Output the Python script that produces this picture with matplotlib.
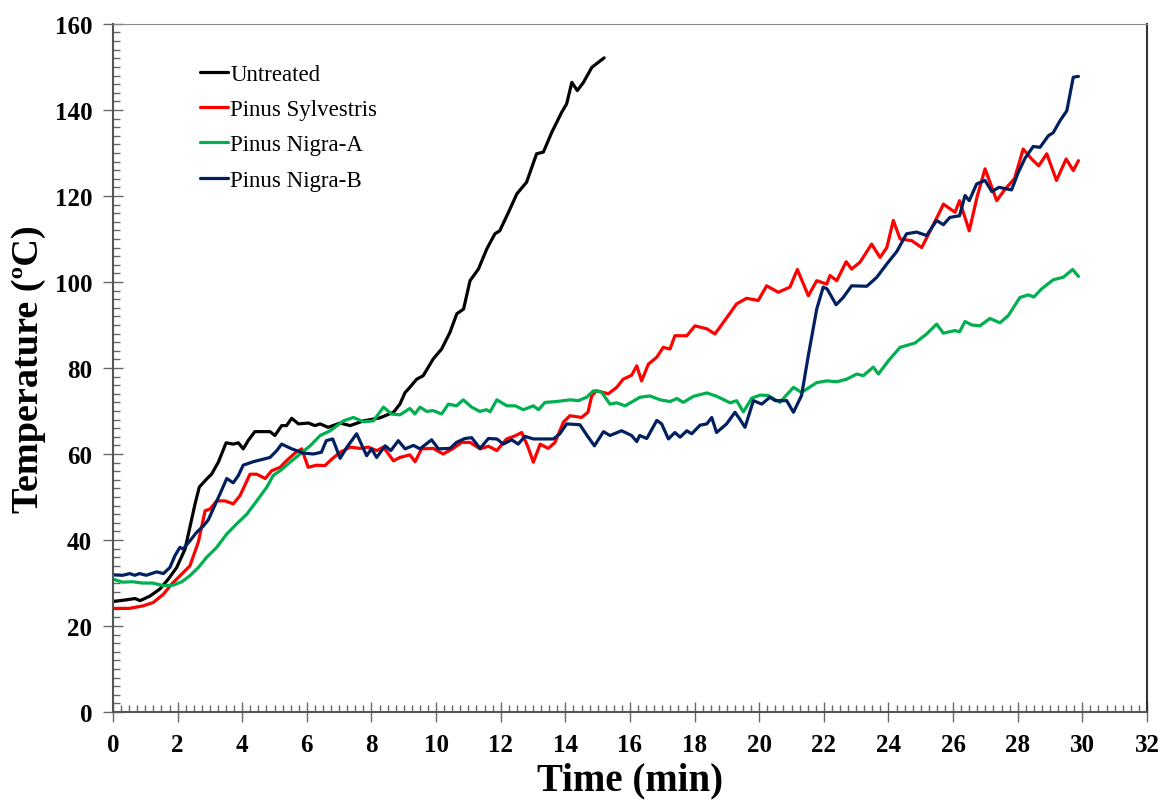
import matplotlib.pyplot as plt
from matplotlib.ticker import MultipleLocator

# Untreated
t_untreated = [0, 0.42, 0.68, 0.84, 1.15, 1.45, 1.71, 1.97, 2.23, 2.38, 2.54, 2.67, 2.9, 3.05,
               3.26, 3.5, 3.72, 3.88, 4.03, 4.19, 4.39, 4.86, 5.01, 5.22, 5.37, 5.53, 5.74,
               6.05, 6.25, 6.41, 6.66, 7.03, 7.34, 7.75, 8.26, 8.68, 8.88, 9.04, 9.14, 9.4,
               9.6, 9.91, 10.17, 10.43, 10.64, 10.85, 11.05, 11.31, 11.57, 11.82, 11.97,
               12.24, 12.5, 12.8, 13.11, 13.32, 13.58, 13.89, 14.04, 14.2, 14.37, 14.56,
               14.82, 15.2]
T_untreated = [25.7, 26.1, 26.4, 25.9, 27.0, 28.6, 30.9, 33.6, 37.9, 43.0, 48.4, 52.3, 54.2, 55.3,
               58.1, 62.6, 62.3, 62.6, 61.2, 63.2, 65.2, 65.2, 64.3, 66.6, 66.6, 68.3, 67.0,
               67.2, 66.6, 67.0, 66.2, 67.2, 66.6, 67.7, 68.4, 69.7, 71.6, 74.3, 75.1, 77.4,
               78.2, 82.1, 84.4, 88.3, 92.6, 93.7, 100.3, 103.0, 107.7, 111.2, 111.9,
               116.2, 120.5, 123.2, 129.8, 130.2, 134.8, 139.5, 141.4, 146.4, 144.5, 146.4,
               149.9, 152.1]

# Pinus Sylvestris
t_sylvestris = [0, 0.5, 0.94, 1.25, 1.56, 1.82, 2.13, 2.38, 2.64, 2.85, 3.0, 3.21, 3.47, 3.72,
                3.93, 4.24, 4.45, 4.71, 4.91, 5.17, 5.38, 5.63, 5.84, 6.04, 6.3, 6.56, 6.77,
                7.03, 7.34, 7.65, 7.9, 8.16, 8.37, 8.68, 8.88, 9.19, 9.35, 9.55, 9.91, 10.22,
                10.53, 10.79, 11.05, 11.36, 11.62, 11.88, 12.18, 12.44, 12.65, 12.85, 13.01,
                13.22, 13.47, 13.68, 13.94, 14.14, 14.5, 14.7, 14.82, 14.97, 15.33, 15.59,
                15.79, 16.05, 16.21, 16.36, 16.57, 16.83, 17.03, 17.24, 17.39, 17.76, 18.01,
                18.38, 18.63, 18.89, 19.3, 19.61, 19.97, 20.23, 20.59, 20.95, 21.18, 21.52,
                21.78, 22.09, 22.19, 22.4, 22.69, 22.86, 23.12, 23.48, 23.74, 23.95, 24.15,
                24.36, 24.72, 25.03, 25.3, 25.6, 25.7, 26.06, 26.2, 26.5, 26.75, 26.99, 27.2,
                27.35, 27.6, 27.9, 28.17, 28.43, 28.65, 28.9, 29.2, 29.5, 29.72, 29.88]
T_sylvestris = [24.1, 24.1, 24.7, 25.5, 27.4, 29.8, 32.1, 34.0, 39.5, 46.8, 47.2, 49.1, 49.1, 48.4,
                50.3, 55.3, 55.3, 54.3, 56.1, 56.9, 58.5, 60.2, 61.2, 56.9, 57.4, 57.3, 58.8,
                60.4, 61.6, 61.3, 61.6, 60.8, 61.6, 58.4, 59.2, 59.8, 58.2, 61.2, 61.3, 60.0,
                61.3, 62.7, 62.7, 61.2, 61.8, 60.8, 63.5, 64.2, 65.0, 61.5, 58.1,
                62.3, 61.3, 62.7, 67.4, 68.9, 68.5, 69.7, 73.6, 74.7, 74.0, 75.5,
                77.4, 78.3, 80.5, 77.0, 80.9, 82.5, 84.8, 84.4, 87.5, 87.5, 89.8,
                89.1, 87.9, 90.6, 94.9, 96.2, 95.7, 99.1, 97.6, 98.8, 102.9, 96.8,
                100.3, 99.5, 101.5, 100.3, 104.7, 103.0, 104.6, 108.8, 105.7, 108.0, 114.3,
                110.0, 109.6, 108.0, 112.0, 116.5, 118.1, 116.2, 118.9, 111.9, 120.0, 126.3, 122.0,
                118.9, 121.5, 124.0, 130.9, 128.6, 127.0, 129.8, 123.6, 128.6, 125.9, 128.2]

# Pinus Nigra-A
t_nigra_a = [0, 0.3, 0.6, 0.91, 1.22, 1.56, 1.86, 2.13, 2.38, 2.64, 2.9, 3.21, 3.52, 3.82, 4.14,
             4.45, 4.76, 4.96, 5.17, 5.48, 5.79, 6.1, 6.41, 6.72, 7.13, 7.44, 7.75, 8.06, 8.37,
             8.62, 8.88, 9.19, 9.34, 9.5, 9.71, 9.91, 10.17, 10.38, 10.63, 10.84, 11.1, 11.35,
             11.56, 11.67, 11.88, 12.19, 12.45, 12.7, 13.01, 13.17, 13.37, 13.73, 14.15, 14.4,
             14.66, 14.87, 15.12, 15.38, 15.59, 15.85, 16.31, 16.62, 16.93, 17.24, 17.45,
             17.65, 17.96, 18.38, 18.69, 19.1, 19.3, 19.51, 19.77, 20.03, 20.28, 20.64, 21.06,
             21.31, 21.78, 22.09, 22.4, 22.71, 23.02, 23.22, 23.53, 23.69, 24.0, 24.36, 24.82,
             25.18, 25.49, 25.7, 26.06, 26.2, 26.37, 26.58, 26.83, 27.14, 27.45, 27.71, 28.07,
             28.33, 28.5, 28.74, 29.1, 29.41, 29.7, 29.88]
T_nigra_a = [30.9, 30.2, 30.3, 30.0, 30.0, 29.4, 29.5, 30.3, 31.7, 33.6, 36.0, 38.3, 41.4, 43.7, 46.0,
             49.1, 52.3, 55.0, 56.1, 58.1, 60.0, 61.9, 64.3, 65.4, 67.7, 68.5, 67.5, 67.7, 70.9,
             69.3, 69.1, 70.6, 69.3, 70.9, 69.9, 70.1, 69.3, 71.6, 71.2, 72.6, 70.9, 69.9,
             70.3, 69.8, 72.6, 71.2, 71.2, 70.3, 71.2, 70.3, 72.0, 72.2, 72.6, 72.4,
             73.2, 74.7, 74.4, 71.6, 71.9, 71.2, 73.2, 73.5, 72.6, 72.2, 72.9,
             72.0, 73.4, 74.2, 73.4, 71.9, 72.4, 69.8, 73.0, 73.7, 73.6, 72.0, 75.5,
             74.3, 76.6, 77.0, 76.8, 77.4, 78.6, 78.2, 80.2, 78.6, 81.7, 84.8, 85.8,
             87.9, 90.2, 88.1, 88.7, 88.4, 90.8, 90.0, 89.8, 91.5, 90.5, 92.2, 96.4,
             97.0, 96.5, 98.4, 100.5, 101.1, 102.9, 101.3]

# Pinus Nigra-B
t_nigra_b = [0, 0.3, 0.52, 0.67, 0.82, 1.03, 1.35, 1.56, 1.76, 1.92, 2.07, 2.17, 2.38, 2.59, 2.8,
             2.95, 3.1, 3.31, 3.52, 3.72, 3.88, 4.03, 4.34, 4.65, 4.86, 5.07, 5.22, 5.53, 5.68,
             5.9, 6.2, 6.45, 6.6, 6.8, 7.03, 7.24, 7.54, 7.85, 8.0, 8.16, 8.42, 8.6, 8.83, 9.04,
             9.3, 9.5, 9.86, 10.07, 10.43, 10.63, 10.89, 11.1, 11.36, 11.62, 11.88, 12.08,
             12.34, 12.54, 12.75, 13.01, 13.32, 13.63, 13.83, 14.04, 14.45, 14.7, 14.9, 15.18,
             15.38, 15.74, 16.05, 16.21, 16.3, 16.52, 16.83, 16.98, 17.19, 17.39, 17.55, 17.76,
             17.91, 18.17, 18.38, 18.53, 18.68, 18.99, 19.25, 19.4, 19.56, 19.82, 20.08, 20.33,
             20.5, 20.85, 21.06, 21.31, 21.52, 21.78, 21.98, 22.1, 22.38, 22.6, 22.86, 23.33,
             23.64, 23.95, 24.26, 24.56, 24.87, 25.18, 25.49, 25.7, 25.9, 26.2, 26.37, 26.5,
             26.73, 26.99, 27.2, 27.42, 27.81, 28.02, 28.23, 28.48, 28.69, 28.95, 29.1, 29.31,
             29.52, 29.62, 29.72, 29.88]
T_nigra_b = [31.9, 31.8, 32.2, 31.8, 32.2, 31.8, 32.6, 32.2, 33.6, 36.4, 38.3, 37.9, 39.8, 41.8, 43.3,
             44.7, 47.2, 50.7, 54.3, 53.3, 55.0, 57.4, 58.2, 58.8, 59.2, 60.8, 62.3, 61.2, 60.8,
             60.2, 60.0, 60.4, 63.1, 63.5, 59.0, 61.6, 64.7, 59.6, 61.2, 59.2, 61.9, 60.8, 63.1, 61.2,
             62.0, 61.2, 63.3, 61.2, 61.3, 62.7, 63.6, 63.8, 61.3, 63.6, 63.5, 62.3,
             63.3, 62.3, 64.1, 63.5, 63.5, 63.5, 64.7, 67.0, 66.8, 64.0, 61.9, 65.2,
             64.3, 65.4, 64.3, 62.9, 64.3, 63.6, 67.8, 67.0, 63.5, 65.0, 63.9, 65.4,
             64.7, 66.7, 67.0, 68.5, 65.0, 67.0, 69.7, 68.1, 66.2, 72.4, 71.6, 73.2,
             72.4, 72.4, 69.7, 73.6, 82.9, 93.7, 98.8, 98.4, 94.7, 96.4, 99.1, 99.0,
             101.1, 104.2, 107.1, 111.2, 111.6, 110.8, 114.3, 113.3, 115.0, 115.4, 120.1, 118.9,
             122.8, 123.6, 121.0, 122.0, 121.4, 125.5, 128.8, 131.5, 131.3, 134.0, 134.7, 137.5,
             139.8, 143.7, 147.6, 147.8]

fig = plt.figure(figsize=(11.65, 8.03), dpi=100)
ax = fig.add_axes([0.097, 0.112, 0.8875, 0.857])

style = dict(lw=2.3, solid_joinstyle="round", solid_capstyle="round")
ax.plot(t_untreated, T_untreated, color="black", label="Untreated", **style)
ax.plot(t_sylvestris, T_sylvestris, color="#FF0000", label="Pinus Sylvestris", **style)
ax.plot(t_nigra_a, T_nigra_a, color="#00B050", label="Pinus Nigra-A", **style)
ax.plot(t_nigra_b, T_nigra_b, color="#002060", label="Pinus Nigra-B", **style)

ax.set_xlim(0, 32)
ax.set_ylim(0, 160)
ax.xaxis.set_major_locator(MultipleLocator(2))
ax.xaxis.set_minor_locator(MultipleLocator(0.25))
ax.yaxis.set_major_locator(MultipleLocator(20))
ax.yaxis.set_minor_locator(MultipleLocator(2))
ax.tick_params(which="major", direction="inout", length=14, width=1.0, color="#666666",
               pad=8, labelsize=18)
ax.tick_params(which="minor", direction="in", length=5, width=1.0, color="#666666")
for lab in ax.get_xticklabels() + ax.get_yticklabels():
    lab.set_fontfamily("Liberation Serif")
    lab.set_fontweight("bold")

for side in ["left", "bottom"]:
    ax.spines[side].set_color("#555555")
    ax.spines[side].set_linewidth(1.5)
ax.spines["top"].set_color("#888888")
ax.spines["right"].set_color("#333333")
ax.spines["right"].set_linewidth(1.5)

ax.set_xlabel("Time (min)", fontfamily="Liberation Serif", fontweight="bold", fontsize=28,
              labelpad=4)
ax.set_ylabel("Temperature (ºC)", fontfamily="Liberation Serif", fontweight="bold",
              fontsize=27.5, labelpad=6)

ax.legend(loc="upper left", bbox_to_anchor=(0.064, 0.972), frameon=False, handlelength=1.25,
          handletextpad=0.08, labelspacing=0.62,
          prop={"family": "Liberation Serif", "size": 16.5})

fig.savefig("out.png", dpi=100)
